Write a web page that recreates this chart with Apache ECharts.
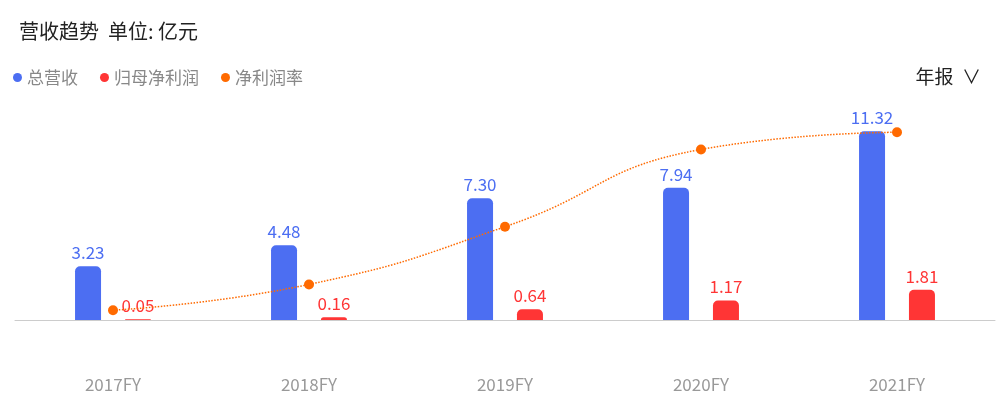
<!DOCTYPE html>
<html><head><meta charset="utf-8">
<script src="https://cdn.jsdelivr.net/npm/echarts@6/dist/echarts.min.js"></script>
<style>body{margin:0}#c{width:998px;height:404px}</style></head>
<body><div id="c"></div>
<script>
const categories = ['2017FY', '2018FY', '2019FY', '2020FY', '2021FY'];
const revenue = [3.23, 4.48, 7.30, 7.94, 11.32];
const netProfit = [0.05, 0.16, 0.64, 1.17, 1.81];
const netMargin = [1.5, 3.6, 8.3, 14.6, 16.0];

const chart = echarts.init(document.getElementById('c'));
const font = '"Noto Sans CJK SC", "Noto Sans", sans-serif';
chart.setOption({
    textStyle: { fontFamily: font },
    title: [{
        text: '营收趋势  单位: 亿元', left: 14, top: 16,
        textStyle: { fontSize: 20, fontWeight: 400, color: '#222', fontFamily: font }
    }, {
        text: '年报  ∨', right: 12, top: 62,
        textStyle: { fontSize: 19, fontWeight: 400, color: '#222', fontFamily: font }
    }],
    legend: {
        left: 8, top: 64, itemWidth: 9, itemHeight: 9, itemGap: 22,
        icon: 'circle',
        textStyle: { fontSize: 17, color: '#888', fontFamily: font },
        data: ['总营收', '归母净利润', '净利润率']
    },
    grid: { left: 15, right: 3, top: 120, bottom: 84 },
    xAxis: {
        type: 'category', data: categories,
        axisTick: { show: false },
        axisLine: { lineStyle: { color: '#ccc' } },
        axisLabel: { margin: 56, fontSize: 17, color: '#999' }
    },
    yAxis: [
        { type: 'value', min: 0, max: 12, show: false },
        { type: 'value', min: 0.7, max: 17, show: false }
    ],
    series: [{
        name: '总营收', type: 'bar', data: revenue, barWidth: 26, barGap: '92%',
        itemStyle: { color: '#4c6ef2', borderRadius: [5, 5, 0, 0] },
        label: { show: true, position: 'top', color: '#4c6ef2', fontSize: 17, formatter: p => p.value.toFixed(2) }
    }, {
        name: '归母净利润', type: 'bar', data: netProfit, barWidth: 26,
        itemStyle: { color: '#ff3535', borderRadius: [5, 5, 0, 0] },
        label: { show: true, position: 'top', color: '#ff3535', fontSize: 17, formatter: p => p.value.toFixed(2) }
    }, {
        name: '净利润率', type: 'line', yAxisIndex: 1, data: netMargin,
        symbol: 'circle', symbolSize: 10, smooth: true,
        itemStyle: { color: '#ff6a00' },
        lineStyle: { color: '#ff6a00', type: 'dotted', width: 1.5 }
    }]
});
</script></body></html>
